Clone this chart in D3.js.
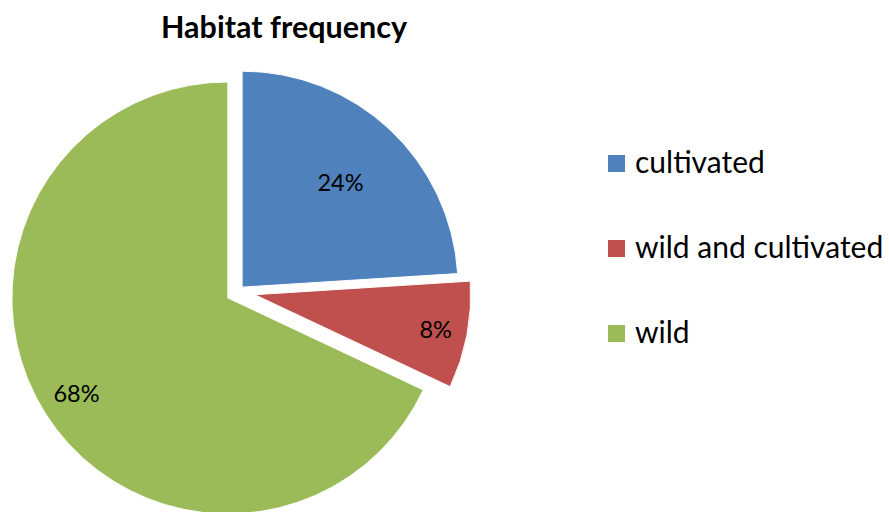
<!DOCTYPE html>
<html>
<head>
<meta charset="utf-8">
<script src="https://cdn.jsdelivr.net/npm/d3@7"></script>
<style>
  body { margin: 0; background: #fff; }
  text { font-family: Lato, "Open Sans", sans-serif; }
</style>
</head>
<body>
<div id="chart"></div>
<script>
// data
const categories = ["cultivated", "wild and cultivated", "wild"];
const shares = [24, 8, 68];
const labels = ["24%", "8%", "68%"];
const colors = ["#4F81BD", "#C0504D", "#9BBB59"];

const width = 889, height = 512;
const cx = 238, cy = 291.5, radius = 216;
// per-slice explosion (px) and label distance (fraction of radius)
const explode = { "cultivated": 6, "wild and cultivated": 17, "wild": 12 };
const labelPos = { "cultivated": 0.665, "wild and cultivated": 0.853, "wild": 0.83 };

const svg = d3.select("#chart").append("svg")
    .attr("width", width)
    .attr("height", height);

svg.append("text")
    .attr("x", 284)
    .attr("y", 38)
    .attr("text-anchor", "middle")
    .attr("font-weight", "bold")
    .attr("font-size", 30.5)
    .attr("fill", "#000")
    .text("Habitat frequency");

const data = categories.map((c, i) => ({ name: c, value: shares[i], label: labels[i], color: colors[i] }));

const pie = d3.pie().sort(null).value(d => d.value);
const arc = d3.arc().innerRadius(0).outerRadius(radius);

const g = svg.append("g").attr("transform", `translate(${cx},${cy})`);

const slices = g.selectAll("g.slice")
    .data(pie(data))
    .enter().append("g")
    .attr("class", "slice")
    .attr("transform", d => {
        const a = (d.startAngle + d.endAngle) / 2;
        const e = explode[d.data.name];
        return `translate(${Math.sin(a) * e},${-Math.cos(a) * e})`;
    });

slices.append("path")
    .attr("d", arc)
    .attr("fill", d => d.data.color)
    .attr("stroke", "#fff")
    .attr("stroke-width", 1);

slices.append("text")
    .attr("transform", d => {
        const r = radius * labelPos[d.data.name];
        return `translate(${d3.arc().innerRadius(r).outerRadius(r).centroid(d)})`;
    })
    .attr("text-anchor", "middle")
    .attr("dy", "0.36em")
    .attr("font-size", 23.5)
    .attr("fill", "#000")
    .text(d => d.data.label);

// legend
const legend = svg.append("g").attr("transform", "translate(608,0)");
const rows = legend.selectAll("g")
    .data(data)
    .enter().append("g")
    .attr("transform", (d, i) => `translate(0,${173 + i * 85})`);

rows.append("rect")
    .attr("x", 0)
    .attr("y", -18)
    .attr("width", 17)
    .attr("height", 17)
    .attr("fill", d => d.color);

rows.append("text")
    .attr("x", 27)
    .attr("font-size", 30)
    .attr("fill", "#000")
    .text(d => d.name);
</script>
</body>
</html>
